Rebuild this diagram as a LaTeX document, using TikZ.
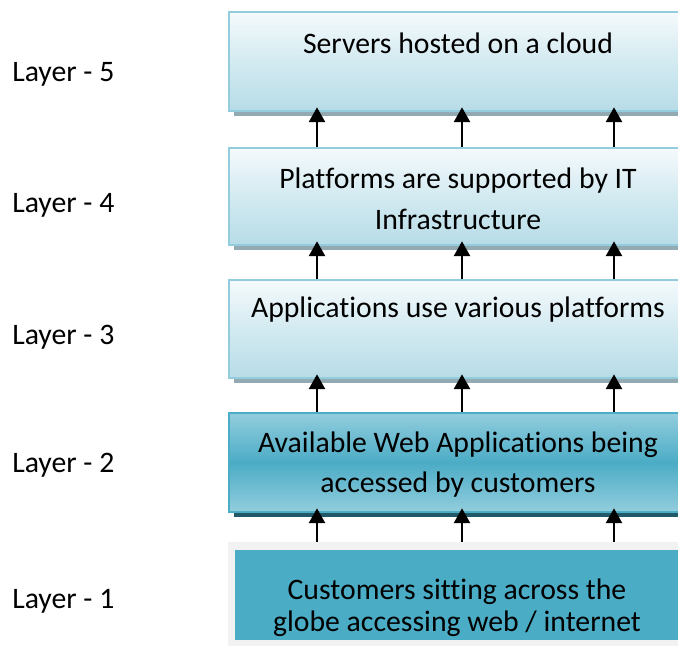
\documentclass[tikz,border=0pt]{standalone}
\usepackage{fontspec}
\setmainfont[Ligatures=NoCommon]{Carlito}
\usepackage{tikz}
\usetikzlibrary{arrows.meta}
\usetikzlibrary{shadows}

\definecolor{paleTop}{HTML}{F5FAFC}
\definecolor{paleMid}{HTML}{D3EAF1}
\definecolor{paleBot}{HTML}{B7DCE7}
\definecolor{paleLine}{HTML}{93CDDD}
\definecolor{paleShadow}{HTML}{93AAB3}
\definecolor{midBlue}{HTML}{4BACC6}
\definecolor{lightBlue}{HTML}{93CDDD}
\definecolor{darkShadow}{HTML}{215968}
\definecolor{frameGray}{HTML}{F2F2F2}

\tikzset{
  layerbox/.style={draw=paleLine, line width=1.5pt, rectangle, inner sep=0pt,
    top color=paleTop, bottom color=paleBot, middle color=paleMid,
    general shadow={fill=paleShadow, shadow xshift=3.5pt, shadow yshift=-3.5pt}},
  webbox/.style={draw=midBlue, line width=1.5pt, rectangle, inner sep=0pt,
    top color=lightBlue, bottom color=lightBlue, middle color=midBlue,
    general shadow={fill=darkShadow, shadow xshift=3.5pt, shadow yshift=-3.5pt}},
  boxtext/.style={inner sep=0pt, align=center, font=\fontsize{22.3}{31}\selectfont},
  layerlabel/.style={anchor=west, inner sep=0pt, font=\fontsize{22.3}{26}\selectfont},
  uparrow/.style={-{Triangle[width=12pt,length=11pt]}, line width=1.5pt}
}

\begin{document}
\begin{tikzpicture}[x=0.75pt,y=0.75pt,yscale=-1,xscale=1]
\useasboundingbox (0,0) rectangle (678,646);
\clip (0,0) rectangle (678,646);
% Layer boxes
\node [layerbox, minimum width=343.5pt, minimum height=74.25pt] (b5) at (458,61.5) {};
\node [layerbox, minimum width=343.5pt, minimum height=72.75pt] (b4) at (458,196.5) {};
\node [layerbox, minimum width=343.5pt, minimum height=73.5pt] (b3) at (458,329) {};
\node [webbox, minimum width=343.5pt, minimum height=74.25pt] (b2) at (458,462.5) {};
% bottom box with its grey frame
\node [fill=frameGray, rectangle, minimum width=345pt, minimum height=78pt, inner sep=0pt] (f1) at (458,594) {};
\node [fill=midBlue, rectangle, minimum width=333pt, minimum height=67.5pt, inner sep=0pt] (b1) at (457,595) {};
% Box texts
\node [boxtext] (t5) at (458,43) {Servers hosted on a cloud};
\node [boxtext] (t4) at (458,199) {Platforms are supported by IT\\Infrastructure};
\node [boxtext] (t3) at (458,310) {Applications use various platforms};
\node [boxtext, font=\fontsize{22.3}{30}\selectfont] (t2) at (458,465) {Available Web Applications being\\accessed by customers};
\begin{scope}
\clip (b1.north west) rectangle ([yshift=7.5pt]b1.south east);
\node [boxtext, font=\fontsize{22.3}{24}\selectfont] (t1) at (457,608) {Customers sitting across the\\globe accessing web / internet};
\end{scope}
% Layer labels
\node [layerlabel] (l5) at (12,74) {Layer - 5};
\node [layerlabel] (l4) at (12,205) {Layer - 4};
\node [layerlabel] (l3) at (12,337) {Layer - 3};
\node [layerlabel] (l2) at (12,465) {Layer - 2};
\node [layerlabel] (l1) at (12,601) {Layer - 1};
% Arrows
\coordinate (c1) at (317,0);
\coordinate (c2) at (462,0);
\coordinate (c3) at (614,0);
\foreach \c in {c1,c2,c3}{
  \draw [uparrow] (b4.north -| \c) -- ([yshift=-3.5pt]b5.south -| \c);
  \draw [uparrow] (b3.north -| \c) -- ([yshift=-3.5pt]b4.south -| \c);
  \draw [uparrow] (b2.north -| \c) -- ([yshift=-3.5pt]b3.south -| \c);
  \draw [uparrow] (f1.north -| \c) -- ([yshift=-3.5pt]b2.south -| \c);
}
\end{tikzpicture}
\end{document}
